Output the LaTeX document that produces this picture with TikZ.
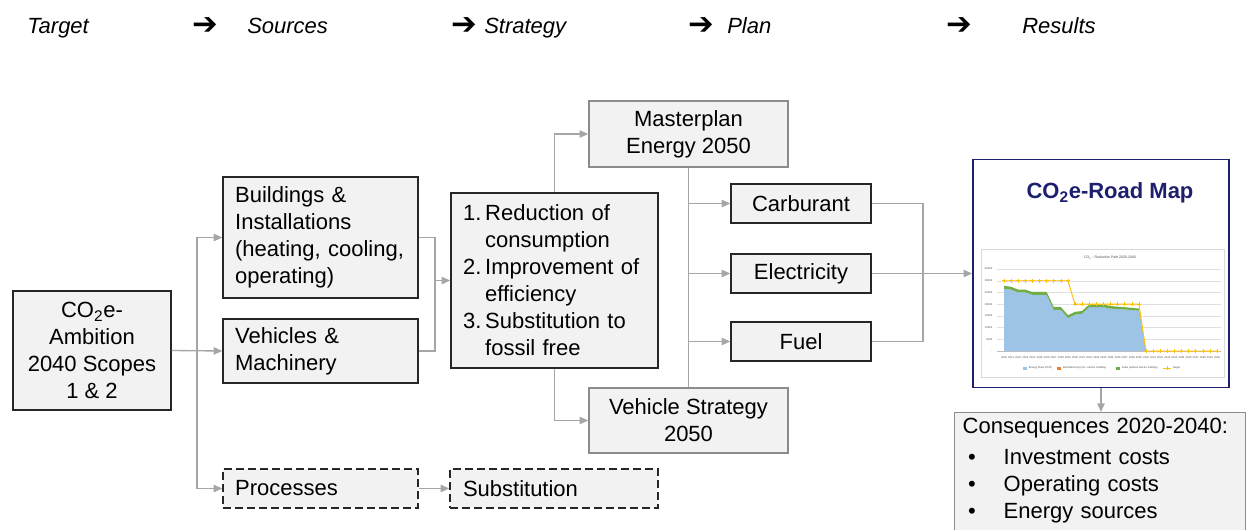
\documentclass[tikz,border=0pt]{standalone}
\usepackage{fontspec}
\setmainfont{Liberation Sans}
\newfontfamily\arrowfont{DejaVu Sans}
\usetikzlibrary{arrows.meta,positioning}
\definecolor{boxfill}{HTML}{F2F2F2}
\definecolor{boxline}{HTML}{262626}
\definecolor{softline}{HTML}{8C8C8C}
\definecolor{linkgray}{HTML}{A6A6A6}
\definecolor{mapnavy}{HTML}{1F1F70}
\definecolor{areablue}{HTML}{9DC3E6}
\definecolor{areagreen}{HTML}{70AD47}
\definecolor{targetyellow}{HTML}{FFC000}
\definecolor{gridorange}{HTML}{ED7D31}

\begin{document}
\begin{tikzpicture}[x=0.75pt, y=-0.75pt, font=\fontsize{16.5}{20.25}\selectfont]
\tikzstyle{box} = [rectangle, draw=boxline, fill=boxfill, line width=1pt, inner sep=0pt]
\tikzstyle{lbox} = [box, align=left, text width=128pt, minimum width=146.25pt]
\tikzstyle{cbox} = [box, align=center]
\tikzstyle{dbox} = [lbox, dash pattern=on 6pt off 3pt]
\tikzstyle{link} = [draw=linkgray, line width=1pt]
\tikzstyle{arrow} = [link, -{Triangle[length=6.5pt,width=5.5pt]}]
\tikzstyle{head} = [anchor=base west, inner sep=0pt, font=\fontsize{16.5}{20}\selectfont\itshape]
\tikzstyle{go} = [anchor=base west, inner sep=0pt, font=\fontsize{23}{24}\arrowfont\upshape\bfseries]
\tikzstyle{tiny} = [inner sep=0pt, font=\fontsize{2}{2.4}\selectfont, text=black!70]

\clip (0,0) rectangle (1247,529);

\node (stage1) [head] at (27,33) {Target};
\node (go1) [go] at (192,34) {➔};
\node (stage2) [head] at (247,33) {Sources};
\node (go2) [go] at (451,34) {➔};
\node (stage3) [head] at (484,33) {Strategy};
\node (go3) [go] at (688,34) {➔};
\node (stage4) [head] at (727,33) {Plan};
\node (go4) [go] at (946,34) {➔};
\node (stage5) [head] at (1022,33) {Results};

\node (amb) [cbox, minimum width=118.5pt, minimum height=89.25pt] at (92,350.5) {CO\textsubscript{2}e-\\Ambition\\2040 Scopes\\1 \& 2};
\node (bld) [lbox, minimum height=90.75pt] at (320.5,237.5) {Buildings \&\\Installations\\(heating, cooling,\\operating)};
\node (veh) [lbox, minimum height=48pt] at (320.5,351) {Vehicles \&\\Machinery};
\node (proc) [dbox, minimum height=29.25pt] at (320.5,488.5) {Processes};
\node (subst) [dbox, text width=136.5pt, minimum width=156pt, minimum height=29.25pt] at (554,488.5) {Substitution};
\node (strat) [box, align=left, text width=137pt, minimum width=155.25pt, minimum height=131.25pt] at (554.5,280.5) {\makebox[16.5pt][l]{1.}Reduction of\\\hspace*{16.5pt}consumption\\\makebox[16.5pt][l]{2.}Improvement of\\\hspace*{16.5pt}efficiency\\\makebox[16.5pt][l]{3.}Substitution to\\\hspace*{16.5pt}fossil free};
\node (mplan) [cbox, draw=softline, minimum width=149.25pt, minimum height=49.5pt] at (688.5,134) {Masterplan\\Energy 2050};
\node (vstrat) [cbox, draw=softline, minimum width=149.25pt, minimum height=48.75pt] at (688.5,420.5) {Vehicle Strategy\\2050};
\node (carb) [cbox, minimum width=105pt, minimum height=29.25pt] at (801,203.5) {Carburant};
\node (elec) [cbox, minimum width=105pt, minimum height=29.25pt] at (801,273.5) {Electricity};
\node (fuel) [cbox, minimum width=105pt, minimum height=29.25pt] at (801,341.5) {Fuel};
\node (road) [rectangle, draw=mapnavy, line width=1.2pt, fill=white, minimum width=192pt, minimum height=171pt] at (1101,273.5) {};
\node (rtitle) [font=\fontsize{16.5}{20}\selectfont\bfseries, text=mapnavy] at (1110,193) {CO\textsubscript{2}e-Road Map};
\node (cons) [box, draw=softline, anchor=north west, align=left, text width=206pt, inner xsep=6pt, inner ysep=4pt] at (954,412) {Consequences 2020-2040:\\[3pt]\hspace*{4pt}\makebox[26.75pt][l]{\textbullet}Investment costs\\\hspace*{4pt}\makebox[26.75pt][l]{\textbullet}Operating costs\\\hspace*{4pt}\makebox[26.75pt][l]{\textbullet}Energy sources\\\mbox{}};

\coordinate (tsplit) at (197,351);
\coordinate (sjoin) at (435,280.5);
\coordinate (ejoin) at (923,273.5);

\draw [arrow] (amb.east) -- (veh.west);
\draw [arrow] (tsplit) |- (bld.west);
\draw [arrow] (tsplit) |- (proc.west);
\draw [link] (bld.east) -| (sjoin);
\draw [link] (veh.east) -| (sjoin);
\draw [arrow] (sjoin) -- (strat.west);
\draw [arrow] (proc) -- (subst);
\draw [arrow] (strat.north) |- (mplan.west);
\draw [arrow] (strat.south) |- (vstrat.west);
\draw [link] (mplan.south) -- (vstrat.north);
\foreach \n in {carb,elec,fuel}
  \draw [arrow] (mplan.south |- \n.west) -- (\n.west);
\draw [link] (carb.east) -| (ejoin);
\draw [link] (fuel.east) -| (ejoin);
\draw [arrow] (elec.east) -- (road.west);
\draw [arrow] (road.south) -- (road.south |- cons.north);

\draw [draw=black!15, line width=0.4pt, fill=white] (981,249) rectangle (1224,377);
\node (ctitle) [tiny, font=\fontsize{2.6}{3}\selectfont] at (1110,258) {CO\textsubscript{2} - Reduction Path 2020-2040};
\begin{scope}[shift={(1004,351)}, x=5.325pt, y=1.757pt]
  \foreach \v in {5,10,...,35} {
    \draw [black!12, line width=0.3pt] (-1,\v) -- (30.5,\v);
    \node [tiny, anchor=east] at (-1.6,\v) {\v000};
  }
  \draw [black!25, line width=0.3pt] (-1,0) -- (30.5,0);
  \node [tiny, anchor=east] at (-1.6,0) {-};
  \fill [areablue] (0,0) -- plot coordinates {(0,26.6) (1,26.2) (2,25.0) (3,25.0) (4,24.0) (5,24.0) (6,24.0) (7,17.6) (8,17.6) (9,14.1) (10,15.5) (11,15.9) (12,18.8) (13,18.7) (14,18.7) (15,18.1) (16,17.9) (17,17.7) (18,17.5) (19,17.2) (20,0)} -- cycle;
  \fill [areagreen] plot coordinates {(0,26.6) (1,26.2) (2,25.0) (3,25.0) (4,24.0) (5,24.0) (6,24.0) (7,17.6) (8,17.6) (9,14.1) (10,15.5) (11,15.9) (12,18.8) (13,18.7) (14,18.7) (15,18.1) (16,17.9) (17,17.7) (18,17.5) (19,17.2) (20,0)} -- plot coordinates {(20,0) (19,18.1) (18,18.4) (17,18.7) (16,18.9) (15,19.2) (14,19.8) (13,19.8) (12,19.9) (11,17.1) (10,16.7) (9,15.3) (8,18.8) (7,18.8) (6,25.2) (5,25.2) (4,25.2) (3,26.2) (2,26.2) (1,27.4) (0,27.8)} -- cycle;
  \draw [targetyellow, line width=0.7pt] plot coordinates {(0,30) (9,30) (10,20) (19,20) (20,0) (30,0)};
  \foreach \i/\v in {0/30,1/30,2/30,3/30,4/30,5/30,6/30,7/30,8/30,9/30,10/20,11/20,12/20,13/20,14/20,15/20,16/20,17/20,18/20,19/20,20/0,21/0,22/0,23/0,24/0,25/0,26/0,27/0,28/0,29/0,30/0}
    \draw [targetyellow, line width=0.45pt] ([xshift=-1.5pt]\i,\v) -- ([xshift=1.5pt]\i,\v) ([yshift=-1.5pt]\i,\v) -- ([yshift=1.5pt]\i,\v);
  \foreach \y [evaluate=\y as \i using \y-2020] in {2020,...,2050}
    \node [tiny] at (\i,-2.6) {\y};
\end{scope}

\fill [areablue] (1023,366.5) rectangle (1027,369.5);
\node [tiny, anchor=west] at (1028.5,368) {Energy Plant (CHP)};
\fill [gridorange] (1057,366.5) rectangle (1061,369.5);
\node [tiny, anchor=west] at (1062.5,368) {Grid Electricity (incl. electro mobility)};
\fill [areagreen] (1116,366.5) rectangle (1120,369.5);
\node [tiny, anchor=west] at (1121.5,368) {Fuels (without electro mobility)};
\draw [targetyellow, line width=0.6pt] (1163,368) -- (1171,368) (1167,366) -- (1167,370);
\node [tiny, anchor=west] at (1172.5,368) {Target};

\end{tikzpicture}
\end{document}
